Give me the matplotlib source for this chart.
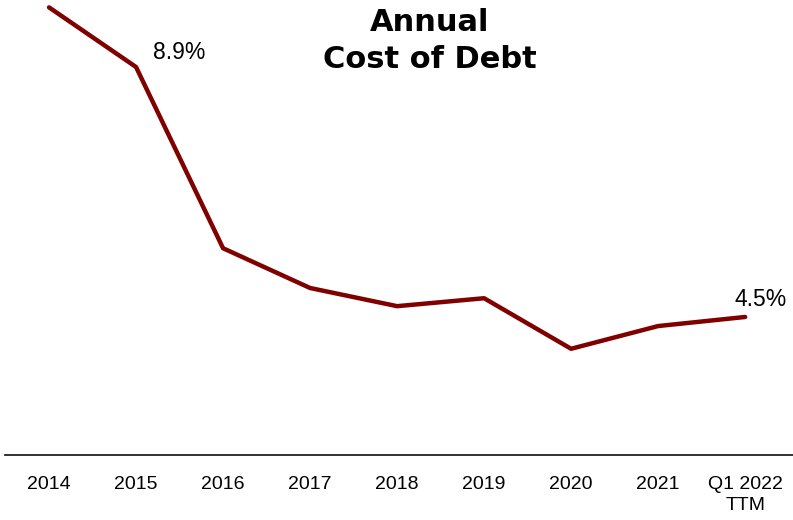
import matplotlib.pyplot as plt
import numpy as np

periods = ['2014', '2015', '2016', '2017', '2018', '2019', '2020', '2021', 'Q1 2022\nTTM']
cost_of_debt = [9.95, 8.9, 5.71, 5.01, 4.69, 4.83, 3.94, 4.34, 4.5]

plt.rcParams['font.family'] = ['Liberation Sans', 'DejaVu Sans']

fig = plt.figure(figsize=(7.93, 5.2), dpi=100)
ax = fig.add_axes([5 / 793, 65 / 520, 788 / 793, 455 / 520])

x = np.arange(len(periods))
ax.plot(x, cost_of_debt, color='#800000', lw=3.2, solid_capstyle='round',
        solid_joinstyle='round', clip_on=False)

ax.set_xlim(-0.506, 8.55)
ax.set_ylim(2.07, 10.08)

for s in ['top', 'left', 'right']:
    ax.spines[s].set_visible(False)
ax.spines['bottom'].set_color('#222222')
ax.spines['bottom'].set_linewidth(1.3)
ax.set_yticks([])
ax.set_xticks(x)
ax.set_xticklabels(periods, fontsize=14, linespacing=1.3)
ax.tick_params(axis='x', length=0, pad=15)

# value labels on first and last highlighted points
ax.annotate(f'{cost_of_debt[1]:.1f}%', (x[1], cost_of_debt[1]), xytext=(12, 2),
            textcoords='offset points', fontsize=16.5, va='bottom', ha='left')
ax.annotate(f'{cost_of_debt[-1]:.1f}%', (x[-1], cost_of_debt[-1]), xytext=(-8, 4),
            textcoords='offset points', fontsize=16.5, va='bottom', ha='left')

fig.text(430 / 793, 1 - 41 / 520, 'Annual\nCost of Debt', ha='center', va='center',
         fontsize=22, fontweight='bold', family='DejaVu Sans', linespacing=1.35)

fig.savefig('out.png', dpi=100)
